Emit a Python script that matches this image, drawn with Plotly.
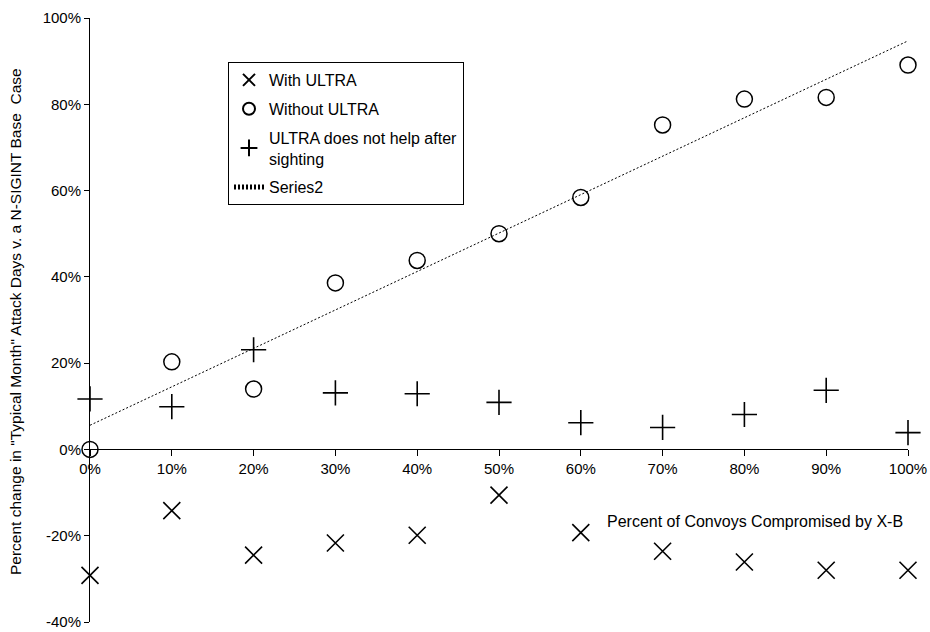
import plotly.graph_objects as go

# Data (percent values)
convoys_pct = [0, 10, 20, 30, 40, 50, 60, 70, 80, 90, 100]
with_ultra = [-29.2, -14.2, -24.5, -21.7, -19.9, -10.6, -19.3, -23.6, -26.1, -28.0, -28.0]
without_ultra = [0.0, 20.3, 14.0, 38.6, 43.8, 50.0, 58.4, 75.2, 81.2, 81.6, 89.1]
no_help_after_sighting = [11.7, 9.9, 23.1, 13.1, 12.9, 10.9, 6.2, 5.1, 8.1, 13.7, 3.9]
series2_x = [0, 100]
series2_y = [5.6, 94.7]

x_ticks = [0, 10, 20, 30, 40, 50, 60, 70, 80, 90, 100]
x_tick_labels = ["0%", "10%", "20%", "30%", "40%", "50%", "60%", "70%", "80%", "90%", "100%"]
y_ticks = [-40, -20, 0, 20, 40, 60, 80, 100]
y_tick_labels = ["-40%", "-20%", "0%", "20%", "40%", "60%", "80%", "100%"]

FONT = "Liberation Sans, Arial, sans-serif"

fig = go.Figure()
fig.add_trace(go.Scatter(
    x=convoys_pct, y=with_ultra, mode="markers", name="With ULTRA",
    legendgroup="a", cliponaxis=False,
    marker=dict(symbol="x-thin", size=17, color="black",
                line=dict(color="black", width=1.6))))
fig.add_trace(go.Scatter(
    x=convoys_pct, y=without_ultra, mode="markers", name="Without ULTRA",
    legendgroup="b", cliponaxis=False,
    marker=dict(symbol="circle-open", size=16, color="black",
                line=dict(color="black", width=1.5))))
fig.add_trace(go.Scatter(
    x=convoys_pct, y=no_help_after_sighting, mode="markers",
    name="ULTRA does not help after<br>sighting",
    legendgroup="c", cliponaxis=False,
    marker=dict(symbol="cross-thin", size=18, color="black",
                line=dict(color="black", width=1.6))))
fig.add_trace(go.Scatter(
    x=series2_x, y=series2_y, mode="lines", name="Series2",
    legendgroup="d", cliponaxis=False,
    line=dict(color="black", width=1, dash="2px,2px")))

fig.update_layout(
    width=930, height=632,
    margin=dict(l=90, r=22, t=18, b=10),
    paper_bgcolor="white", plot_bgcolor="white",
    font=dict(family=FONT, size=15, color="black"),
    showlegend=True,
    legend=dict(
        x=(228 - 90) / 818, y=1 - (62 - 18) / 604,
        xanchor="left", yanchor="top",
        bordercolor="black", borderwidth=1, bgcolor="white",
        font=dict(family=FONT, size=16, color="black"),
        tracegroupgap=5, itemsizing="constant"),
    xaxis=dict(
        range=[0, 100], tickvals=x_ticks, ticktext=x_tick_labels,
        showline=True, linecolor="black", linewidth=1,
        ticks="outside", ticklen=6, tickcolor="black",
        showgrid=False, zeroline=False, automargin=False,
        anchor="free", position=40 / 140,
        tickfont=dict(family=FONT, size=15)),
    yaxis=dict(
        range=[-40, 100], tickvals=y_ticks, ticktext=y_tick_labels,
        showline=True, linecolor="black", linewidth=1,
        ticks="outside", ticklen=5, tickcolor="black",
        showgrid=False, zeroline=False, automargin=False,
        tickfont=dict(family=FONT, size=15)),
    annotations=[
        dict(text="Percent of Convoys Compromised by X-B",
             x=81.3, y=-16.8, xref="x", yref="y",
             showarrow=False, font=dict(family=FONT, size=16)),
        dict(text='Percent change in "Typical Month" Attack Days v. a N-SIGINT Base  Case',
             x=(15 - 90) / 818, y=1 - (322 - 18) / 604, xref="paper", yref="paper",
             xanchor="center", yanchor="middle", textangle=-90,
             showarrow=False, font=dict(family=FONT, size=15.5)),
    ],
)

fig.write_html(
    "out.html",
    config={"displayModeBar": False},
    post_script="document.body.style.margin='0';document.body.style.padding='0';",
)
